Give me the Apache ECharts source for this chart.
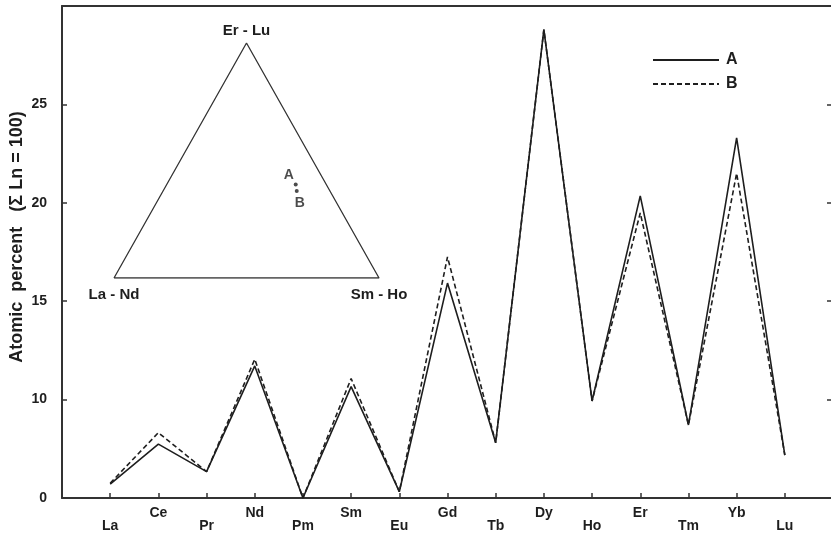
<!DOCTYPE html>
<html>
<head>
<meta charset="utf-8">
<script src="https://cdn.jsdelivr.net/npm/echarts@6/dist/echarts.min.js"></script>
<style>
html,body{margin:0;padding:0;background:#fff;}
#chart{width:831px;height:539px;}
</style>
</head>
<body>
<div id="chart"></div>
<script>
// ---- data ----
const elements = ['La','Ce','Pr','Nd','Pm','Sm','Eu','Gd','Tb','Dy','Ho','Er','Tm','Yb','Lu'];
const seriesA = [0.71, 2.74, 1.34, 6.71, 0, 5.66, 0.32, 10.92, 2.81, 23.8, 4.93, 15.35, 3.71, 18.3, 2.18];
const seriesB = [0.75, 3.32, 1.34, 7.05, 0, 6.07, 0.32, 12.25, 2.81, 23.8, 4.93, 14.48, 3.71, 16.5, 2.18];
const yTickValues = [0, 5, 10, 15, 20];
const yTickLabels = ['0', '10', '15', '20', '25'];
const yAxisName = 'Atomic  percent   (Σ Ln = 100)';
const ternaryVertexLabels = ['La - Nd', 'Sm - Ho', 'Er - Lu'];
const ternaryGroups = [[0, 3], [5, 10], [11, 14]]; // index ranges: La-Nd, Sm-Ho, Er-Lu
const sampleNames = ['A', 'B'];

// ---- helpers ----
function groupSums(vals) {
  return ternaryGroups.map(([a, b]) => {
    let s = 0; for (let i = a; i <= b; i++) s += vals[i]; return s;
  });
}
function ternaryXY(comp) {
  const t = comp[0] + comp[1] + comp[2];
  const b = comp[1] / t, c = comp[2] / t;
  return [b + c / 2, c];
}

const ink = '#1e1e1e';
const font = 'Liberation Sans';

const vertices = [[1,0,0],[0,1,0],[0,0,1]].map(ternaryXY);
const labelPos = ['bottom', 'bottom', 'top'];
const labelDist = [9, 9, 5];
const triData = vertices.map((v, i) => ({
  value: v,
  label: { show: true, position: labelPos[i], distance: labelDist[i], formatter: ternaryVertexLabels[i],
           color: ink, fontSize: 15, fontWeight: 'bold', fontFamily: font }
}));
triData.push({ value: vertices[0] });

const ptA = ternaryXY(groupSums(seriesA));
const ptB = ternaryXY(groupSums(seriesB));

const chart = echarts.init(document.getElementById('chart'), null, { renderer: 'canvas' });
chart.setOption({
  animation: false,
  backgroundColor: '#fff',
  legend: {
    data: [ { name: 'A' }, { name: 'B' } ],
    orient: 'vertical',
    left: 647,
    top: 44,
    itemWidth: 66,
    itemHeight: 14,
    itemGap: 2,
    itemStyle: { opacity: 0 },
    textStyle: { color: ink, fontSize: 16, fontWeight: 'bold', fontFamily: font, lineHeight: 16, padding: [0, 0, 6, 2] }
  },
  grid: [
    { left: 62, top: 6, width: 771, height: 492, outerBoundsMode: 'none', containLabel: false },
    { left: 114, top: 43, width: 265, height: 235, outerBoundsMode: 'none', containLabel: false }
  ],
  xAxis: [
    {
      gridIndex: 0, type: 'value', min: -1, max: 15, interval: 1,
      splitLine: { show: false },
      axisLine: { show: true, onZero: false, lineStyle: { color: '#333', width: 2 } },
      axisTick: { show: true, inside: true, length: 5, lineStyle: { color: '#333', width: 1.5 } },
      axisLabel: {
        margin: 7,
        formatter: function (v) {
          const i = Math.round(v);
          if (i < 0 || i >= elements.length) return '';
          return (i % 2 === 0 ? '{lo|' : '{hi|') + elements[i] + '}';
        },
        rich: {
          hi: { fontSize: 14, fontWeight: 'bold', fontFamily: font, color: ink, lineHeight: 16 },
          lo: { fontSize: 14, fontWeight: 'bold', fontFamily: font, color: ink, lineHeight: 16, padding: [27, 0, 0, 0] }
        }
      }
    },
    {
      gridIndex: 0, type: 'value', position: 'top', min: -1, max: 15,
      splitLine: { show: false },
      axisLine: { show: true, onZero: false, lineStyle: { color: '#333', width: 2 } },
      axisTick: { show: false }, axisLabel: { show: false }
    },
    { gridIndex: 1, type: 'value', min: 0, max: 1, show: false }
  ],
  yAxis: [
    {
      gridIndex: 0, type: 'value', min: 0, max: 25, interval: 5,
      splitLine: { show: false },
      axisLine: { show: true, onZero: false, lineStyle: { color: '#333', width: 2 } },
      axisTick: { show: true, inside: true, length: 5, lineStyle: { color: '#333', width: 1.5 } },
      axisLabel: {
        margin: 15, color: ink, fontSize: 14, fontWeight: 'bold', fontFamily: font,
        formatter: function (v) {
          const k = yTickValues.indexOf(v);
          return k >= 0 ? yTickLabels[k] : '';
        }
      },
      name: yAxisName,
      nameLocation: 'middle',
      nameGap: 36,
      nameMoveOverlap: false,
      nameTextStyle: { color: ink, fontSize: 18, fontWeight: 'bold', fontFamily: font, padding: [0, 0, 0, 30] }
    },
    {
      gridIndex: 0, type: 'value', position: 'right', min: 0, max: 25, interval: 5,
      splitLine: { show: false },
      axisLine: { show: false, onZero: false },
      axisTick: { show: true, inside: true, length: 6, lineStyle: { color: '#333', width: 1.5 } },
      axisLabel: { show: false }
    },
    { gridIndex: 1, type: 'value', min: 0, max: 1, show: false }
  ],
  series: [
    {
      name: 'A', type: 'line', xAxisIndex: 0, yAxisIndex: 0,
      data: seriesA.map((v, i) => [i, v]),
      symbol: 'none',
      lineStyle: { color: ink, width: 1.6, type: 'solid' },
      itemStyle: { color: ink }
    },
    {
      name: 'B', type: 'line', xAxisIndex: 0, yAxisIndex: 0,
      data: seriesB.map((v, i) => [i, v]),
      symbol: 'none',
      lineStyle: { color: ink, width: 1.6, type: [5, 3] },
      itemStyle: { color: ink }
    },
    {
      name: 'triangle', type: 'line', xAxisIndex: 2, yAxisIndex: 2,
      data: triData, symbol: 'circle', symbolSize: 0, showSymbol: true,
      itemStyle: { color: '#333' },
      lineStyle: { color: '#333', width: 1.3 },
      silent: true
    },
    {
      name: 'points', type: 'scatter', xAxisIndex: 2, yAxisIndex: 2,
      symbol: 'circle', symbolSize: 4,
      itemStyle: { color: ink },
      data: [
        { value: ptA, label: { show: true, position: 'top', distance: 2, offset: [-7, 2], formatter: sampleNames[0] } },
        { value: ptB, label: { show: true, position: 'bottom', distance: 2, offset: [3, 1], formatter: sampleNames[1] } }
      ],
      label: { color: ink, fontSize: 14, fontWeight: 'bold', fontFamily: font }
    }
  ]
});
</script>
</body>
</html>
